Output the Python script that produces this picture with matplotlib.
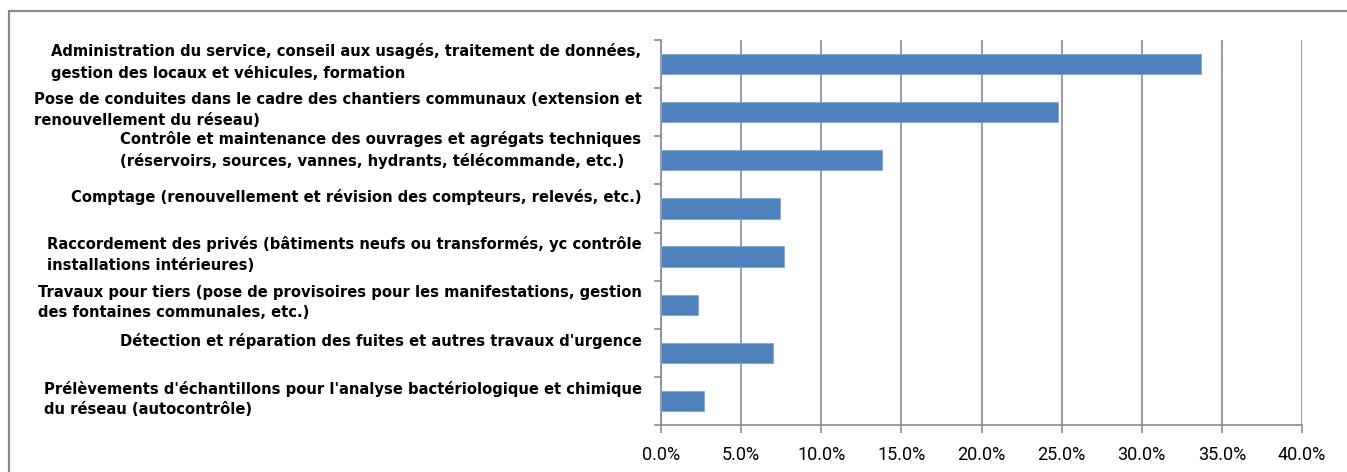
import matplotlib
matplotlib.use('Agg')
import matplotlib.pyplot as plt
import matplotlib.transforms as mtransforms
from matplotlib.patches import Rectangle
from matplotlib.ticker import FuncFormatter, MultipleLocator

categories = [
    "Administration du service, conseil aux usagés, traitement de données,\ngestion des locaux et véhicules, formation",
    "Pose de conduites dans le cadre des chantiers communaux (extension et\nrenouvellement du réseau)",
    "Contrôle et maintenance des ouvrages et agrégats techniques\n(réservoirs, sources, vannes, hydrants, télécommande, etc.)",
    "Comptage (renouvellement et révision des compteurs, relevés, etc.)",
    "Raccordement des privés (bâtiments neufs ou transformés, yc contrôle\ninstallations intérieures)",
    "Travaux pour tiers (pose de provisoires pour les manifestations, gestion\ndes fontaines communales, etc.)",
    "Détection et réparation des fuites et autres travaux d'urgence",
    "Prélèvements d'échantillons pour l'analyse bactériologique et chimique\ndu réseau (autocontrôle)",
]
values = [33.7, 24.8, 13.8, 7.4, 7.7, 2.3, 7.0, 2.7]

# upward shift of each category label (pixels), as placed in the original
label_shift = [2, 2, 10, 11, 2, 2, 12, 2]

bar_color = '#4F81BD'
grid_color = '#8C8C8C'

fig = plt.figure(figsize=(13.47, 4.72), dpi=100)
ax = fig.add_axes([661 / 1347, 1 - 425 / 472, (1302 - 661) / 1347, (425 - 40) / 472])

pos = list(range(len(categories)))
ax.barh(pos, values, height=0.42, color=bar_color, edgecolor='#7FA4D6', linewidth=0.6, zorder=3)
ax.set_ylim(len(categories) - 0.5, -0.5)
ax.set_xlim(0, 40)

ax.xaxis.set_major_locator(MultipleLocator(5))
ax.xaxis.set_major_formatter(FuncFormatter(lambda v, p: f"{v:.1f}%"))
ax.grid(axis='x', color=grid_color, linewidth=1.2, zorder=0)

ax.set_yticks(pos)
ax.set_yticklabels(categories, fontsize=10.6, fontweight='bold', family='DejaVu Sans',
                   ha='right', va='center', multialignment='left', linespacing=1.45)
ax.set_yticks([p - 0.5 for p in pos] + [len(pos) - 0.5], minor=True)
ax.tick_params(axis='y', which='major', length=0, pad=14)
ax.tick_params(axis='y', which='minor', length=5, color=grid_color, width=1.2)
ax.tick_params(axis='x', length=6, color=grid_color, width=1.2, labelsize=13, pad=9)
for lab in ax.get_xticklabels():
    lab.set_family('Roboto')

for lab, s in zip(ax.get_yticklabels(), label_shift):
    lab.set_transform(lab.get_transform() +
                      mtransforms.ScaledTranslation(0, s / 100, fig.dpi_scale_trans))

for side in ['top', 'right']:
    ax.spines[side].set_visible(False)
for side in ['left', 'bottom']:
    ax.spines[side].set_color(grid_color)
    ax.spines[side].set_linewidth(1.2)

fig.patches.append(Rectangle((8.5 / 1347, -0.05), 1.1, 1.05 - 10.5 / 472,
                             transform=fig.transFigure, fill=False,
                             edgecolor='#8C8C8C', linewidth=1.6))

fig.savefig('out.png', dpi=100)
